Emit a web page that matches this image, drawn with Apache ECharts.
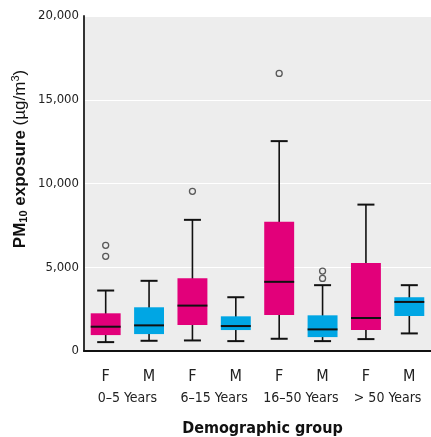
<!DOCTYPE html>
<html>
<head>
<meta charset="utf-8">
<script src="https://cdn.jsdelivr.net/npm/echarts@6/dist/echarts.min.js"></script>
<style>html,body{margin:0;padding:0;background:#fff;}#c{width:431px;height:437px;}</style>
</head>
<body>
<div id="c"></div>
<script>
const groups = ['0–5 Years', '6–15 Years', '16–50 Years', '> 50 Years'];
const sexes = ['F', 'M', 'F', 'M', 'F', 'M', 'F', 'M'];
const mins    = [530, 610, 630, 590, 730, 590, 710, 1050];
const q1s     = [950, 1010, 1550, 1250, 2150, 830, 1250, 2090];
const medians = [1450, 1530, 2710, 1490, 4130, 1290, 1970, 2930];
const q3s     = [2250, 2610, 4350, 2070, 7710, 2130, 5250, 3210];
const maxs    = [3610, 4190, 7830, 3210, 12530, 3930, 8740, 3930];
const outlierIdx = [0, 0, 2, 4, 5, 5];
const outlierVal = [6310, 5650, 9530, 16570, 4770, 4330];
const yTicks = [0, 5000, 10000, 15000, 20000];

const colorF = '#E2007A', colorM = '#00A6E4';
const catKeys = sexes.map((s, i) => s + i);
const boxData = sexes.map((s, i) => [i, mins[i], q1s[i], medians[i], q3s[i], maxs[i]]);
const outData = outlierIdx.map((c, i) => [c, outlierVal[i]]);
const narrow = '"Liberation Sans Narrow", "Arial Narrow", "DejaVu Sans Condensed", sans-serif';

const chart = echarts.init(document.getElementById('c'));
chart.setOption({
  animation: false,
  grid: { left: 84, right: 0, top: 16, bottom: 86, show: true, backgroundColor: '#EDEDED', borderWidth: 0,
          containLabel: false, outerBoundsMode: 'none' },
  xAxis: [{
    type: 'category', data: catKeys, boundaryGap: true,
    axisLine: { show: true, lineStyle: { color: '#111', width: 2 } },
    axisTick: { show: false },
    axisLabel: { formatter: v => v[0], margin: 18, fontSize: 16, color: '#222', fontFamily: narrow, interval: 0 },
    splitLine: { show: false }
  }, {
    type: 'category', data: groups, position: 'bottom', gridIndex: 0,
    axisLine: { show: false }, axisTick: { show: false },
    axisLabel: { margin: 40, fontSize: 14, color: '#222', fontFamily: narrow, interval: 0 },
    name: 'Demographic group', nameLocation: 'middle', nameGap: 70,
    nameTextStyle: { fontSize: 16, fontWeight: 'bold', color: '#111', fontFamily: narrow, padding: [0, 0, 0, 10] }
  }],
  yAxis: {
    type: 'value', min: yTicks[0], max: yTicks[yTicks.length - 1], interval: 5000,
    axisLine: { show: true, lineStyle: { color: '#333', width: 2 } },
    axisTick: { show: false },
    axisLabel: { fontSize: 13, color: '#222', fontFamily: narrow, margin: 5,
      formatter: v => v.toLocaleString('en-US') },
    splitLine: { show: true, lineStyle: { color: '#fff', width: 1 } }
  },
  graphic: [{
    type: 'text', x: 20, y: 159, rotation: Math.PI / 2,
    style: {
      text: '{b|PM}{s|10}{b| exposure }{n|(µg/m}{p|3}{n|)}',
      align: 'center', verticalAlign: 'middle',
      rich: {
        b: { fontSize: 17, fontWeight: 'bold', fontFamily: '"Liberation Sans", Arial, sans-serif', fill: '#111' },
        s: { fontSize: 11, fontWeight: 'bold', fontFamily: '"Liberation Sans", Arial, sans-serif', fill: '#111', verticalAlign: 'bottom', padding: [8, 0, 0, 0] },
        n: { fontSize: 17, fontFamily: '"Liberation Sans", Arial, sans-serif', fill: '#111' },
        p: { fontSize: 11, fontFamily: '"Liberation Sans", Arial, sans-serif', fill: '#111', verticalAlign: 'top', padding: [0, 0, 8, 0] }
      }
    }
  }],
  series: [{
    type: 'custom',
    data: boxData,
    encode: { x: 0, y: [1, 2, 3, 4, 5] },
    renderItem: function (params, api) {
      const i = api.value(0);
      const pMin = api.coord([i, api.value(1)]);
      const pQ1 = api.coord([i, api.value(2)]);
      const pMed = api.coord([i, api.value(3)]);
      const pQ3 = api.coord([i, api.value(4)]);
      const pMax = api.coord([i, api.value(5)]);
      const bw = api.size([1, 0])[0] * 0.69;
      const cw = 17;
      const x = pMed[0];
      const col = (i % 2 === 0) ? colorF : colorM;
      const ls = { stroke: '#111', lineWidth: 1.6 };
      return {
        type: 'group',
        children: [
          { type: 'line', shape: { x1: x, y1: pMin[1], x2: x, y2: pMax[1] }, style: ls },
          { type: 'line', shape: { x1: x - cw / 2, y1: pMin[1], x2: x + cw / 2, y2: pMin[1] }, style: { stroke: '#111', lineWidth: 2 } },
          { type: 'line', shape: { x1: x - cw / 2, y1: pMax[1], x2: x + cw / 2, y2: pMax[1] }, style: { stroke: '#111', lineWidth: 2 } },
          { type: 'rect', shape: { x: x - bw / 2, y: pQ3[1], width: bw, height: pQ1[1] - pQ3[1] }, style: { fill: col } },
          { type: 'line', shape: { x1: x - bw / 2, y1: pMed[1], x2: x + bw / 2, y2: pMed[1] }, style: { stroke: '#111', lineWidth: 2 } }
        ]
      };
    }
  }, {
    type: 'scatter',
    data: outData,
    symbol: 'circle', symbolSize: 6,
    itemStyle: { color: '#EDEDED', borderColor: '#333', borderWidth: 1.3 }
  }]
});
</script>
</body>
</html>
